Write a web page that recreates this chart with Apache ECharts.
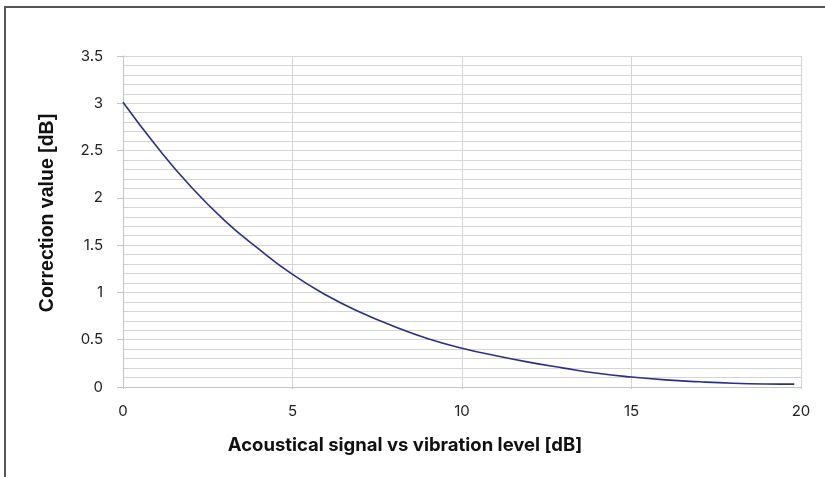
<!DOCTYPE html>
<html>
<head>
<meta charset="utf-8">
<script src="https://cdn.jsdelivr.net/npm/echarts@6/dist/echarts.min.js"></script>
<style>
  html, body { margin: 0; padding: 0; background: #fff; }
  #chart { width: 825px; height: 477px; }
</style>
</head>
<body>
<div id="chart"></div>
<script>
  // values
  const levelDb = [0, 1, 2, 3, 4, 5, 6, 7, 8, 9, 10, 11, 12, 13, 14, 15, 16, 17, 18, 19, 19.8];
  const correctionDb = [3.01, 2.54, 2.12, 1.76, 1.46, 1.19, 0.97, 0.79, 0.64, 0.51, 0.41,
    0.33, 0.26, 0.2, 0.145, 0.105, 0.075, 0.055, 0.04, 0.032, 0.03];
  const xTitle = 'Acoustical signal vs vibration level [dB]';
  const yTitle = 'Correction value [dB]';

  const chart = echarts.init(document.getElementById('chart'));
  const gridColor = '#d4d4d4';
  const font = 'Inter, "Noto Sans", sans-serif';

  chart.setOption({
    animation: false,
    grid: { left: 123, right: 24, top: 56, bottom: 90 },
    xAxis: {
      type: 'value',
      min: 0,
      max: 20,
      interval: 5,
      axisLine: { lineStyle: { color: '#c4c4c4', width: 1 } },
      axisTick: { show: true, length: 2, lineStyle: { color: '#c4c4c4' } },
      axisLabel: { color: '#222', fontSize: 15, fontFamily: font, margin: 17 },
      splitLine: { show: true, lineStyle: { color: gridColor, width: 1 } }
    },
    yAxis: {
      type: 'value',
      min: 0,
      max: 3.5,
      interval: 0.5,
      axisLine: { show: true, lineStyle: { color: '#c4c4c4', width: 1 } },
      axisTick: { show: true, length: 6, lineStyle: { color: '#c4c4c4' } },
      minorTick: { show: false, splitNumber: 5 },
      axisLabel: { color: '#222', fontSize: 15, fontFamily: font, margin: 20 },
      splitLine: { show: true, lineStyle: { color: gridColor, width: 1 } },
      minorSplitLine: { show: true, lineStyle: { color: gridColor, width: 1 } }
    },
    series: [{
      type: 'line',
      data: levelDb.map((x, i) => [x, correctionDb[i]]),
      smooth: true,
      showSymbol: false,
      lineStyle: { color: '#2b2f8a', width: 1.6 }
    }],
    graphic: [
      {
        type: 'rect',
        shape: { x: 5, y: 7, width: 900, height: 600 },
        style: { fill: 'none', stroke: '#555', lineWidth: 2 },
        silent: true
      },
      {
        type: 'text',
        x: 405,
        y: 445,
        style: {
          text: xTitle, fill: '#111', fontSize: 18.5, fontWeight: 'bold',
          fontFamily: font, align: 'center', verticalAlign: 'middle'
        }
      },
      {
        type: 'text',
        x: 48,
        y: 213,
        rotation: Math.PI / 2,
        style: {
          text: yTitle, fill: '#111', fontSize: 19.5, fontWeight: 'bold',
          fontFamily: '"Liberation Sans", Arial, sans-serif',
          align: 'center', verticalAlign: 'middle'
        }
      }
    ]
  });
</script>
</body>
</html>
